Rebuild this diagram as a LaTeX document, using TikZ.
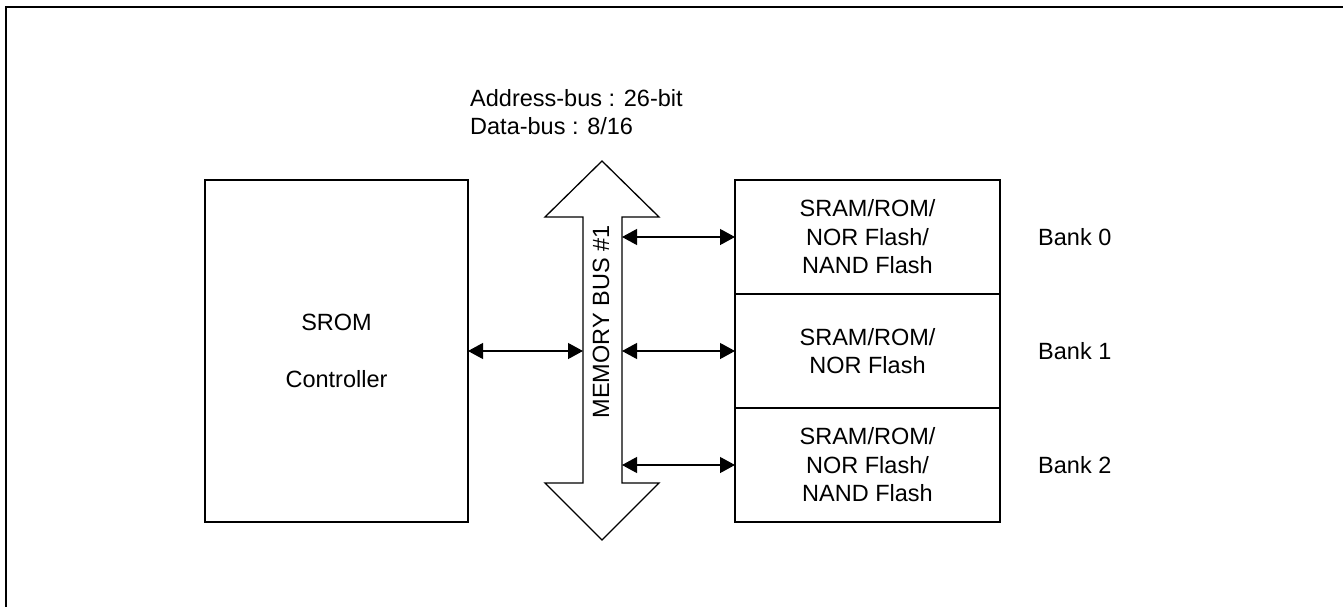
\documentclass[tikz,border=0pt]{standalone}
\usepackage{fontspec}
\setmainfont{Liberation Sans}
\usetikzlibrary{positioning,arrows.meta}

\begin{document}
\begin{tikzpicture}[x=1pt,y=-1pt,
  blk/.style={draw,line width=1.3pt,outer sep=0pt,align=center,font=\fontsize{23.5}{28.5}\selectfont},
  bankbox/.style={blk,minimum width=265pt,minimum height=114pt},
  lbl/.style={inner sep=0pt,font=\fontsize{23.5}{28.5}\selectfont},
  link/.style={line width=1.2pt,{Triangle[length=15pt,width=16pt]}-{Triangle[length=15pt,width=16pt]}}]
\useasboundingbox (0,0) rectangle (1343,607);
\draw [line width=2pt] (6,607) -- (6,7.5) -- (1343,7.5);
% controller
\node [blk,minimum width=263pt,minimum height=342pt] (ctrl) at (336.5,351) {SROM\\[29pt]Controller};
% banks
\node [bankbox] (b0) at (867.5,237) {SRAM/ROM/\\NOR Flash/\\NAND Flash};
\node [bankbox,below=0pt of b0] (b1) {SRAM/ROM/\\NOR Flash};
\node [bankbox,below=0pt of b1] (b2) {SRAM/ROM/\\NOR Flash/\\NAND Flash};
\node [lbl,right=38pt of b0] (l0) {Bank 0};
\node [lbl,right=38pt of b1] (l1) {Bank 1};
\node [lbl,right=38pt of b2] (l2) {Bank 2};
% memory bus
\draw [line width=1.3pt] (602,161) -- (659,217) -- (622,217) -- (622,483) -- (659,483) -- (602,540)
  -- (545,483) -- (583,483) -- (583,217) -- (545,217) -- cycle;
\coordinate (busL) at (583,351);
\coordinate (busR) at (622,351);
\node [lbl,rotate=90] (busname) at (601,322) {MEMORY BUS \#1};
\node [lbl,align=left,anchor=west] (buswidth) at (470,112) {Address-bus : 26-bit\\Data-bus : 8/16};
% links
\draw [link] (ctrl.east) -- (busL);
\draw [link] (busR |- b0.west) -- (b0.west);
\draw [link] (busR |- b1.west) -- (b1.west);
\draw [link] (busR |- b2.west) -- (b2.west);
\end{tikzpicture}
\end{document}
